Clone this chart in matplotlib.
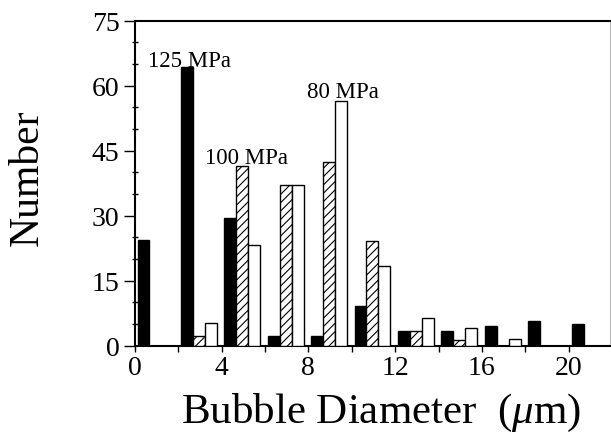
import matplotlib
matplotlib.use("Agg")
import matplotlib.pyplot as plt
import numpy as np

plt.rcParams['font.family'] = ['Liberation Serif', 'DejaVu Serif']
plt.rcParams['mathtext.fontset'] = 'custom'
plt.rcParams['mathtext.rm'] = 'Liberation Serif'
plt.rcParams['mathtext.it'] = 'Liberation Serif:italic'
plt.rcParams['hatch.linewidth'] = 0.8

# Data (bin start in micrometres, counts per pressure)
bin_starts = [0, 2, 4, 6, 8, 10, 12, 14, 16, 18, 20]
p125 = [24.4, 64.3, 29.5, 2.2, 2.2, 9.2, 3.3, 3.3, 4.6, 5.8, 5.0]
p100 = [0, 2.2, 41.5, 37.2, 42.3, 24.1, 3.3, 1.3, 0, 0, 0]
p80 = [0, 5.2, 23.3, 37.2, 56.5, 18.3, 6.5, 4.1, 1.5, 0, 0]
labels = ["125 MPa", "100 MPa", "80 MPa"]
label_pos = [(0.63, 64.6), (3.24, 42.2), (7.93, 57.3)]
xticks = [0, 4, 8, 12, 16, 20]
yticks = [0, 15, 30, 45, 60, 75]

W, H = 611, 439
fig = plt.figure(figsize=(W / 100, H / 100), dpi=100)
ax = fig.add_axes([134.7 / W, 1 - 346.7 / H, (610 - 134.7) / W, 325 / H])

x = np.array(bin_starts, dtype=float)
bw = 0.55
ax.bar(x + 0.405, p125, width=bw, color='black', edgecolor='black', linewidth=1.0, zorder=3)
ax.bar(x + 0.955, p100, width=bw, color='white', edgecolor='black', linewidth=1.0,
       hatch='////', zorder=3)
ax.bar(x + 1.505, p80, width=bw, color='white', edgecolor='black', linewidth=1.0, zorder=3)

for t, (lx, ly) in zip(labels, label_pos):
    ax.text(lx, ly, t, ha='left', va='baseline', fontsize=16.5, zorder=4)

ax.set_xlim(0, 21.9)
ax.set_ylim(0, 75)
ax.set_xticks(xticks)
ax.set_xticks(np.arange(2, 22, 4), minor=True)
ax.set_yticks(yticks)
ax.set_yticks(np.arange(5, 75, 5), minor=True)

ax.tick_params(axis='y', which='major', direction='out', length=8, width=1.0,
               labelsize=20, pad=3)
ax.tick_params(axis='y', which='minor', direction='inout', length=5, width=1.0)
ax.tick_params(axis='x', which='both', direction='out', length=4, width=1.0,
               labelsize=20, pad=3)

for s in ['left', 'bottom', 'top']:
    ax.spines[s].set_linewidth(1.5)
ax.spines['right'].set_linewidth(0.8)
ax.spines['right'].set_color('#bbbbbb')

ax.set_xlabel('Bubble Diameter  ($\\mu$m)', fontsize=31, va='center')
ax.xaxis.set_label_coords(0.518, -0.205)
ax.set_ylabel('Number', fontsize=30, va='center')
ax.yaxis.set_label_coords(-0.225, 0.52)

fig.savefig('out.png', dpi=100)
